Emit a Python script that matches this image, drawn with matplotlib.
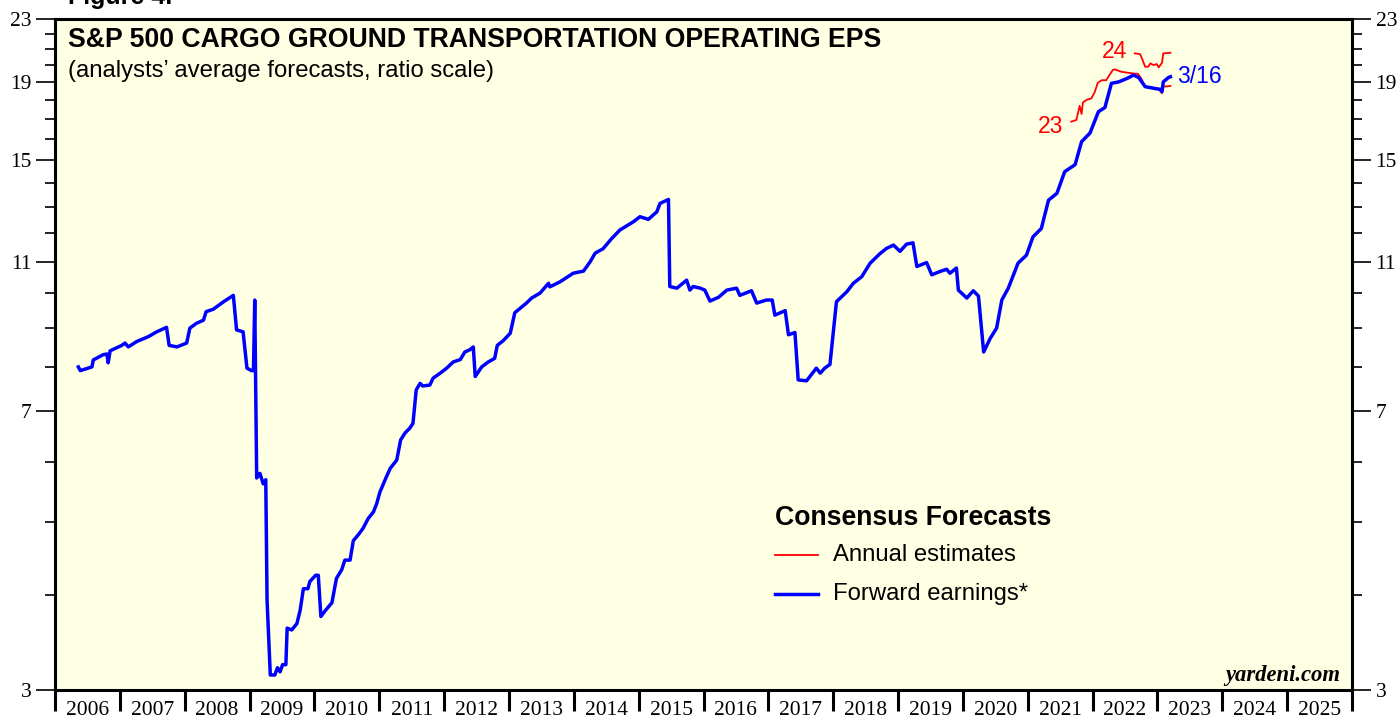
import matplotlib
matplotlib.use("Agg")
import matplotlib.pyplot as plt
from matplotlib.ticker import FixedLocator, NullFormatter, FixedFormatter
from matplotlib.lines import Line2D

# ---------------- data ----------------
fwd_dates = [2006.36, 2006.39, 2006.57, 2006.59, 2006.74, 2006.80, 2006.82, 2006.85, 2007.03, 2007.08,
             2007.13, 2007.26, 2007.44, 2007.57, 2007.72, 2007.76, 2007.88, 2008.03, 2008.08, 2008.18,
             2008.29, 2008.33, 2008.44, 2008.60, 2008.75, 2008.80, 2008.90, 2008.96, 2009.03, 2009.06,
             2009.08, 2009.11, 2009.16, 2009.21, 2009.25, 2009.27, 2009.32, 2009.39, 2009.43, 2009.47,
             2009.51, 2009.56, 2009.58, 2009.65, 2009.73, 2009.78, 2009.83, 2009.90, 2009.93, 2010.02,
             2010.06, 2010.10, 2010.16, 2010.27, 2010.34, 2010.42, 2010.47, 2010.55, 2010.60, 2010.68,
             2010.75, 2010.83, 2010.91, 2010.96, 2011.01, 2011.11, 2011.17, 2011.27, 2011.33, 2011.40,
             2011.47, 2011.52, 2011.57, 2011.63, 2011.67, 2011.78, 2011.83, 2011.94, 2012.04, 2012.14,
             2012.25, 2012.32, 2012.40, 2012.45, 2012.48, 2012.58, 2012.68, 2012.78, 2012.82, 2012.91,
             2013.02, 2013.09, 2013.27, 2013.35, 2013.48, 2013.61, 2013.63, 2013.79, 2013.99, 2014.15,
             2014.25, 2014.33, 2014.45, 2014.58, 2014.71, 2014.92, 2015.02, 2015.15, 2015.28, 2015.33,
             2015.46, 2015.48, 2015.59, 2015.74, 2015.79, 2015.84, 2015.95, 2016.02, 2016.10, 2016.23,
             2016.36, 2016.51, 2016.56, 2016.74, 2016.82, 2016.97, 2017.06, 2017.10, 2017.26, 2017.31,
             2017.41, 2017.46, 2017.59, 2017.74, 2017.80, 2017.87, 2017.95, 2018.05, 2018.13, 2018.21,
             2018.31, 2018.44, 2018.57, 2018.72, 2018.82, 2018.93, 2019.03, 2019.13, 2019.23, 2019.29,
             2019.44, 2019.52, 2019.65, 2019.75, 2019.80, 2019.90, 2019.93, 2020.06, 2020.16, 2020.24,
             2020.32, 2020.42, 2020.52, 2020.60, 2020.70, 2020.78, 2020.85, 2020.98, 2021.08, 2021.21,
             2021.32, 2021.45, 2021.57, 2021.73, 2021.83, 2021.96, 2022.09, 2022.19, 2022.29, 2022.40,
             2022.53, 2022.63, 2022.71, 2022.81, 2022.94, 2023.04, 2023.07, 2023.09, 2023.17, 2023.20]
fwd_values = [8.00, 7.91, 8.00, 8.17, 8.30, 8.32, 8.10, 8.40, 8.54, 8.60,
              8.50, 8.64, 8.77, 8.90, 9.02, 8.54, 8.50, 8.60, 9.00, 9.13,
              9.22, 9.46, 9.53, 9.75, 9.94, 8.95, 8.90, 7.97, 7.91, 7.91,
              9.80, 5.71, 5.79, 5.61, 5.68, 3.94, 3.14, 3.14, 3.21, 3.17,
              3.24, 3.24, 3.62, 3.60, 3.67, 3.82, 4.08, 4.08, 4.17, 4.25,
              4.25, 3.75, 3.81, 3.91, 4.21, 4.32, 4.45, 4.45, 4.72, 4.81,
              4.90, 5.05, 5.15, 5.28, 5.47, 5.73, 5.88, 6.03, 6.41, 6.55,
              6.64, 6.74, 7.46, 7.61, 7.55, 7.57, 7.73, 7.85, 7.97, 8.12,
              8.18, 8.37, 8.43, 8.50, 7.77, 8.00, 8.12, 8.21, 8.54, 8.66,
              8.86, 9.43, 9.71, 9.86, 10.01, 10.31, 10.20, 10.36, 10.63, 10.70,
              11.00, 11.30, 11.45, 11.80, 12.12, 12.43, 12.62, 12.52, 12.81, 13.14,
              13.30, 10.21, 10.16, 10.41, 10.10, 10.21, 10.16, 10.10, 9.77, 9.88,
              10.10, 10.16, 9.94, 10.08, 9.71, 9.80, 9.80, 9.36, 9.49, 8.82,
              8.88, 7.69, 7.67, 7.97, 7.85, 7.97, 8.06, 9.75, 9.90, 10.05,
              10.31, 10.52, 10.96, 11.28, 11.46, 11.58, 11.36, 11.61, 11.66, 10.85,
              10.98, 10.58, 10.69, 10.76, 10.63, 10.80, 10.10, 9.86, 10.08, 9.92,
              8.37, 8.72, 9.00, 9.80, 10.16, 10.58, 10.96, 11.23, 11.87, 12.18,
              13.27, 13.55, 14.47, 14.78, 15.85, 16.27, 17.36, 17.58, 18.92, 19.00,
              19.20, 19.40, 19.26, 18.73, 18.64, 18.58, 18.45, 19.00, 19.26, 19.30]

est23_dates = [2021.67, 2021.75, 2021.80, 2021.83, 2021.85, 2021.91, 2021.98, 2022.03, 2022.08, 2022.14,
               2022.21, 2022.26, 2022.31, 2022.34, 2022.44, 2022.52, 2022.62, 2022.70, 2022.75, 2022.81,
               2022.99, 2023.04, 2023.07, 2023.09, 2023.20]
est23_values = [16.84, 16.93, 17.67, 17.24, 17.85, 18.00, 18.07, 18.40, 18.95, 19.10,
                19.10, 19.40, 19.70, 19.74, 19.60, 19.55, 19.50, 19.47, 19.20, 18.73,
                18.64, 18.50, 18.36, 18.73, 18.77]

est24_dates = [2022.65, 2022.73, 2022.76, 2022.81, 2022.86, 2022.89, 2022.94, 2022.99, 2023.02, 2023.07,
               2023.09, 2023.20]
est24_values = [20.72, 20.68, 20.42, 19.90, 19.90, 20.10, 20.00, 20.06, 19.86, 20.14,
                20.72, 20.76]

years = list(range(2006, 2026))
y_major = [3, 7, 11, 15, 19, 23]
y_minor = [4, 5, 6, 8, 9, 10, 12, 13, 14, 16, 17, 18, 20, 21, 22]

BLUE = "#0000FF"
RED = "#FF0000"
SERIF = ["Liberation Serif", "DejaVu Serif"]
SANS = ["Liberation Sans", "DejaVu Sans"]

# ---------------- figure ----------------
fig = plt.figure(figsize=(13.97, 7.19), dpi=100)
fig.patch.set_facecolor("white")
ax = fig.add_axes([55 / 1397, 29 / 719, 1297 / 1397, 671 / 719])
ax.set_facecolor("#FFFFE4")

ax.plot(fwd_dates, fwd_values, color=BLUE, lw=2.5, solid_joinstyle="round", zorder=3)
ax.plot(est23_dates, est23_values, color=RED, lw=1.3, zorder=2)
ax.plot(est24_dates, est24_values, color=RED, lw=1.3, zorder=2)

ax.set_yscale("log")
ax.set_ylim(3, 23)
ax.set_xlim(2006, 2026)

ax.yaxis.set_major_locator(FixedLocator(y_major))
ax.yaxis.set_major_formatter(FixedFormatter([str(v) for v in y_major]))
ax.yaxis.set_minor_locator(FixedLocator(y_minor))
ax.yaxis.set_minor_formatter(NullFormatter())
ax.yaxis.set_ticks_position("both")
ax.tick_params(axis="y", which="major", direction="out", length=14, width=1.2,
               labelsize=15.5, pad=3, labelleft=True, labelright=True)
ax.tick_params(axis="y", which="minor", direction="out", length=7, width=1.2)

ax.xaxis.set_major_locator(FixedLocator(years + [2026]))
ax.xaxis.set_major_formatter(NullFormatter())
ax.xaxis.set_minor_locator(FixedLocator([y + 0.5 for y in years]))
ax.xaxis.set_minor_formatter(FixedFormatter([str(y) for y in years]))
ax.tick_params(axis="x", which="major", direction="out", length=15, width=2.2)
ax.tick_params(axis="x", which="minor", length=0, labelsize=15.5, pad=8)

for lab in ax.get_xticklabels(minor=True) + ax.get_yticklabels():
    lab.set_fontfamily(SERIF)
for lab in ax.yaxis.get_ticklabels(which="major"):
    lab.set_fontfamily(SERIF)

for s in ax.spines.values():
    s.set_linewidth(2.2)

# ---------------- texts ----------------
ax.text(0.010, 0.958, "S&P 500 CARGO GROUND TRANSPORTATION OPERATING EPS",
        transform=ax.transAxes, fontsize=19.2, fontweight="bold", family=SANS,
        ha="left", va="baseline")
ax.text(0.010, 0.913, "(analysts\u2019 average forecasts, ratio scale)",
        transform=ax.transAxes, fontsize=17.2, family=SANS, ha="left", va="baseline")
fig.text(68 / 1397, 1 - 4 / 719, "Figure 4.", fontsize=18, fontweight="bold",
         family=SANS, ha="left", va="baseline")

ax.text(fwd_dates[-1] + 0.1, fwd_values[-1], "3/16", color=BLUE, fontsize=16.5,
        family=SANS, ha="left", va="center")
ax.text(est23_dates[0] - 0.12, est23_values[0] - 0.25, "23", color=RED, fontsize=16.5,
        family=SANS, ha="right", va="center")
ax.text(est24_dates[0] - 0.12, est24_values[0] + 0.1, "24", color=RED, fontsize=16.5,
        family=SANS, ha="right", va="center")

# legend (manual)
ax.text(0.555, 0.256, "Consensus Forecasts", transform=ax.transAxes, fontsize=19.2,
        fontweight="bold", family=SANS, ha="left", va="center")
ax.add_line(Line2D([0.555, 0.588], [0.2012, 0.2012], transform=ax.transAxes,
                   color=RED, lw=1.3))
ax.text(0.600, 0.2012, "Annual estimates", transform=ax.transAxes, fontsize=17.2,
        family=SANS, ha="left", va="center")
ax.add_line(Line2D([0.555, 0.588], [0.1431, 0.1431], transform=ax.transAxes,
                   color=BLUE, lw=2.5))
ax.text(0.600, 0.1431, "Forward earnings*", transform=ax.transAxes, fontsize=17.2,
        family=SANS, ha="left", va="center")

ax.text(0.9907, 0.014, "yardeni.com", transform=ax.transAxes, fontsize=16.3,
        fontweight="bold", style="italic", family=SERIF, ha="right", va="baseline")

fig.savefig("out.png", dpi=100)
